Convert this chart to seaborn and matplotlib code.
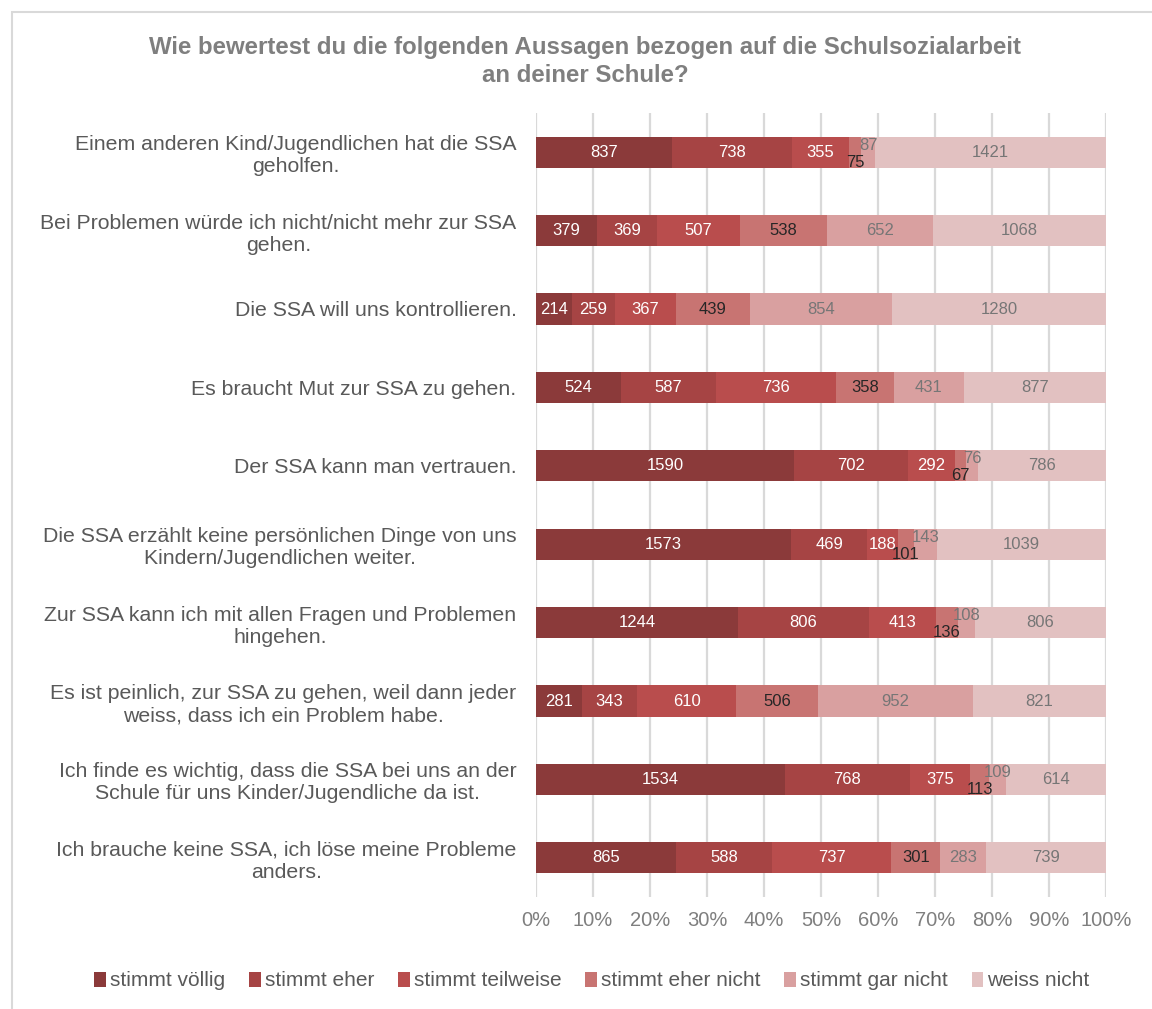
import numpy as np
import pandas as pd
import matplotlib
matplotlib.use("Agg")
import matplotlib.pyplot as plt
from matplotlib.patches import Patch, Rectangle
import seaborn as sns

statements = [
    "Einem anderen Kind/Jugendlichen hat die SSA\ngeholfen.",
    "Bei Problemen würde ich nicht/nicht mehr zur SSA\ngehen.",
    "Die SSA will uns kontrollieren.",
    "Es braucht Mut zur SSA zu gehen.",
    "Der SSA kann man vertrauen.",
    "Die SSA erzählt keine persönlichen Dinge von uns\nKindern/Jugendlichen weiter.",
    "Zur SSA kann ich mit allen Fragen und Problemen\nhingehen.",
    "Es ist peinlich, zur SSA zu gehen, weil dann jeder\nweiss, dass ich ein Problem habe.",
    "Ich finde es wichtig, dass die SSA bei uns an der\nSchule für uns Kinder/Jugendliche da ist.",
    "Ich brauche keine SSA, ich löse meine Probleme\nanders.",
]

series_names = ["stimmt völlig", "stimmt eher", "stimmt teilweise",
                "stimmt eher nicht", "stimmt gar nicht", "weiss nicht"]

stimmt_voellig = [837, 379, 214, 524, 1590, 1573, 1244, 281, 1534, 865]
stimmt_eher = [738, 369, 259, 587, 702, 469, 806, 343, 768, 588]
stimmt_teilweise = [355, 507, 367, 736, 292, 188, 413, 610, 375, 737]
stimmt_eher_nicht = [75, 538, 439, 358, 67, 101, 136, 506, 113, 301]
stimmt_gar_nicht = [87, 652, 854, 431, 76, 143, 108, 952, 109, 283]
weiss_nicht = [1421, 1068, 1280, 877, 786, 1039, 806, 821, 614, 739]

colors = ["#8B3A3A", "#A64444", "#B94D4D", "#C87472", "#D9A0A0", "#E2C1C1"]
label_colors = ["white", "white", "white", "#262626", "#767676", "#767676"]

x_ticks = [0, 10, 20, 30, 40, 50, 60, 70, 80, 90, 100]
x_tick_labels = [f"{t}%" for t in x_ticks]

sns.set_theme(style="white")
plt.rcParams["font.family"] = ["Liberation Sans", "DejaVu Sans"]

vals = np.array([stimmt_voellig, stimmt_eher, stimmt_teilweise,
                 stimmt_eher_nicht, stimmt_gar_nicht, weiss_nicht], dtype=float)
totals = vals.sum(axis=0)
pct = vals / totals * 100
cum = np.cumsum(pct, axis=0)

fig = plt.figure(figsize=(11.52, 10.09), dpi=100)
ax = fig.add_axes([536 / 1152, 1 - 897 / 1009, 570 / 1152, 784 / 1009])

# frame around the chart area
fig.patches.append(Rectangle((12 / 1152, -0.02), 1.05, 1 - 12 / 1009 + 0.02,
                             transform=fig.transFigure, fill=False,
                             edgecolor="#D9D9D9", linewidth=1.5, zorder=0))

for i in range(5, -1, -1):
    df = pd.DataFrame({"statement": statements, "cum": cum[i]})
    sns.barplot(data=df, x="cum", y="statement", orient="h", color=colors[i],
                saturation=1, width=0.4, ax=ax, zorder=3, linewidth=0)

ax.set_xlim(0, 100)
ax.set_ylim(9.5, -0.5)
ax.set_xticks(x_ticks)
ax.set_xticklabels(x_tick_labels)
ax.grid(axis="x", color="#D9D9D9", linewidth=1.6, zorder=0)
ax.grid(axis="y", visible=False)
ax.set_axisbelow(True)
for s in ax.spines.values():
    s.set_visible(False)
ax.set_xlabel("")
ax.set_ylabel("")
ax.tick_params(axis="y", length=0, pad=14, labelsize=15.3, labelcolor="#595959")
ax.tick_params(axis="x", length=0, pad=10, labelsize=14.5, labelcolor="#7F7F7F")
for lab in ax.get_yticklabels():
    lab.set_multialignment("center")

# value labels
for r in range(len(statements)):
    for i in range(6):
        left = cum[i, r] - pct[i, r]
        xc = left + pct[i, r] / 2
        dy = 0
        small = pct[i, r] < 5
        if i == 3 and small:
            dy = 0.13
        elif i == 4 and small:
            dy = -0.09
        ax.text(xc, r + dy, f"{int(vals[i, r])}", ha="center", va="center",
                fontsize=12, color=label_colors[i], zorder=5)

fig.text(585 / 1152, 1 - 61.5 / 1009,
         "Wie bewertest du die folgenden Aussagen bezogen auf die Schulsozialarbeit\nan deiner Schule?",
         ha="center", va="center", fontsize=17.3, fontweight="bold",
         color="#7F7F7F", linespacing=1.25)

handles = [Patch(facecolor=c, edgecolor="none") for c in colors]
fig.legend(handles, series_names, loc="center", bbox_to_anchor=(592 / 1152, 1 - 981 / 1009),
           ncol=6, frameon=False, fontsize=15, labelcolor="#595959",
           handlelength=0.55, handleheight=0.75, handletextpad=0.2, columnspacing=1.15)

fig.savefig("out.png", dpi=100, facecolor="white")
